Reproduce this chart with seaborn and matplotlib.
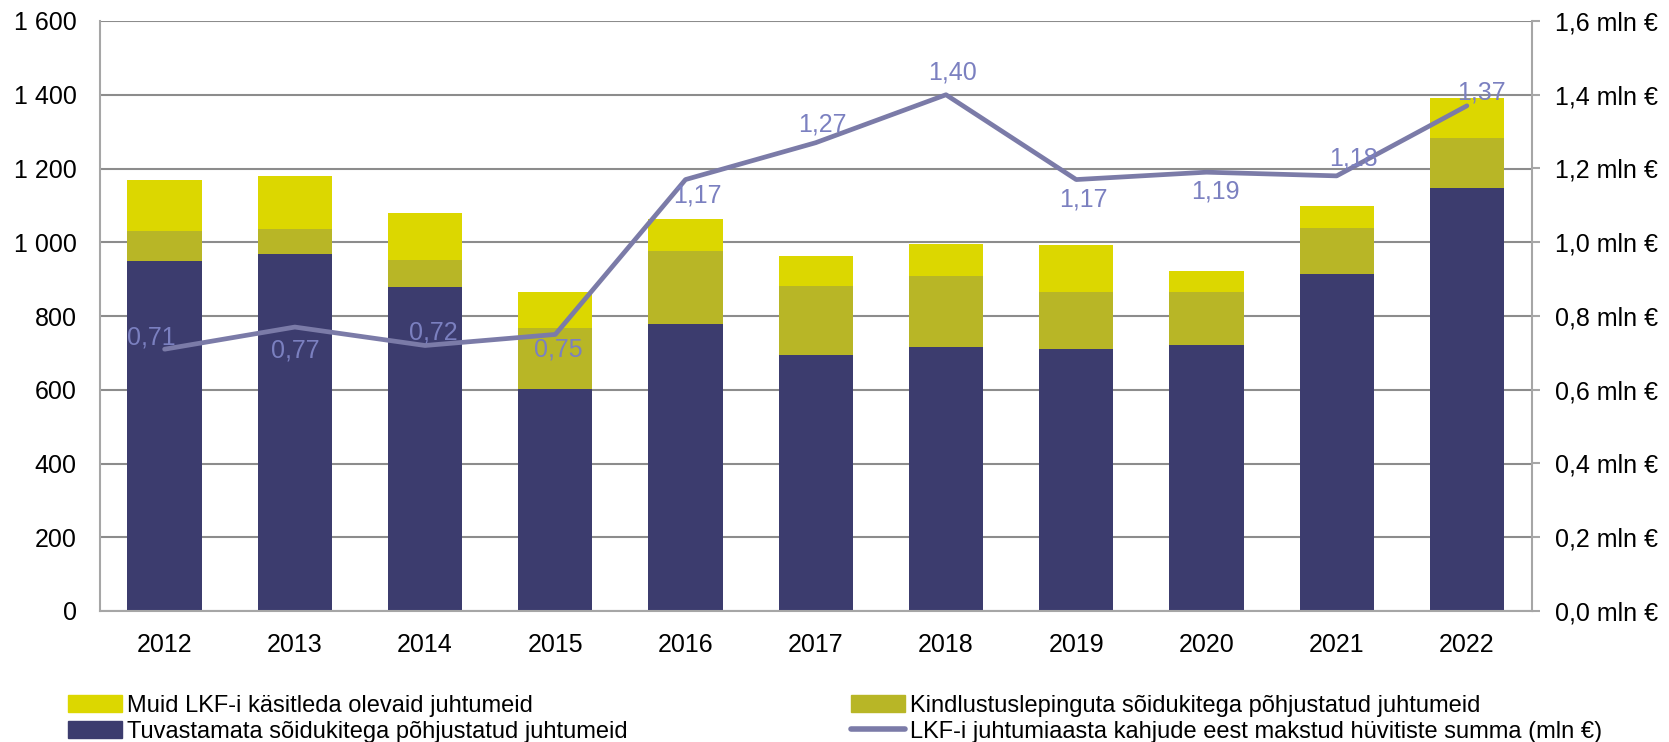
import matplotlib
matplotlib.use('Agg')
import matplotlib.pyplot as plt
import matplotlib.ticker as mticker
from matplotlib.patches import Patch
from matplotlib.lines import Line2D
import numpy as np
import pandas as pd
import seaborn as sns

# Data
years = ['2012', '2013', '2014', '2015', '2016', '2017', '2018', '2019', '2020', '2021', '2022']
unidentified = [950, 968, 878, 602, 777, 693, 716, 710, 722, 915, 1147]
uninsured = [80, 67, 74, 166, 198, 188, 193, 156, 142, 125, 137]
other = [138, 145, 128, 98, 88, 83, 87, 127, 59, 58, 108]
paid_mln = [0.71, 0.77, 0.72, 0.75, 1.17, 1.27, 1.40, 1.17, 1.19, 1.18, 1.37]

lbl_other = 'Muid LKF-i käsitleda olevaid juhtumeid'
lbl_uninsured = 'Kindlustuslepinguta sõidukitega põhjustatud juhtumeid'
lbl_unident = 'Tuvastamata sõidukitega põhjustatud juhtumeid'
lbl_line = 'LKF-i juhtumiaasta kahjude eest makstud hüvitiste summa (mln €)'

c_other = '#dcd700'
c_unins = '#b8b626'
c_unident = '#3c3c6e'
c_line = '#7b7ba8'
c_label = '#7b80c0'
c_grid = '#8c8c8c'
c_spine = '#a6a6a6'

sns.set_style('white')
plt.rcParams['font.family'] = ['Liberation Sans', 'DejaVu Sans']
plt.rcParams['text.color'] = 'black'
plt.rcParams['xtick.labelcolor'] = 'black'
plt.rcParams['ytick.labelcolor'] = 'black'

df = pd.DataFrame({'year': years, 'unident': unidentified, 'unins': uninsured, 'other': other})
df['mid'] = df['unident'] + df['unins']
df['total'] = df['mid'] + df['other']

fig = plt.figure(figsize=(16.69, 7.42), dpi=100)
ax = fig.add_axes([99.5 / 1669, (742 - 611) / 742, (1532 - 99.5) / 1669, (611 - 21) / 742])

# layered bars = stacked look
bar_kws = dict(width=0.57, linewidth=0, saturation=1, ax=ax, zorder=2)
sns.barplot(data=df, x='year', y='total', color=c_other, **bar_kws)
sns.barplot(data=df, x='year', y='mid', color=c_unins, **bar_kws)
sns.barplot(data=df, x='year', y='unident', color=c_unident, **bar_kws)

ax.set_ylim(0, 1600)
ax.set_xlim(-0.5, len(years) - 0.5)
ax.yaxis.set_major_locator(mticker.MultipleLocator(200))
ax.yaxis.set_major_formatter(mticker.FuncFormatter(lambda v, p: f'{int(v):,}'.replace(',', ' ')))
ax.grid(axis='y', color=c_grid, linewidth=1.5, zorder=0)
ax.set_axisbelow(True)
ax.set_xlabel('')
ax.set_ylabel('')
ax.tick_params(axis='y', length=0, pad=16.5, labelsize=18, labelcolor='black')
ax.tick_params(axis='x', length=0, pad=15.5, labelsize=18, labelcolor='black')
for s in ['left', 'bottom']:
    ax.spines[s].set_color(c_spine)
    ax.spines[s].set_linewidth(1.5)
ax.spines['top'].set_visible(False)
ax.spines['right'].set_visible(False)

# secondary axis with paid sums
ax2 = ax.twinx()
sns.lineplot(x=np.arange(len(years)), y=paid_mln, color=c_line, linewidth=3.4, ax=ax2, zorder=5)
ax2.set_ylim(0, 1.6)
ax2.set_xlim(-0.5, len(years) - 0.5)
ax2.yaxis.set_major_locator(mticker.MultipleLocator(0.2))
ax2.yaxis.set_major_formatter(mticker.FuncFormatter(lambda v, p: f'{v:.1f}'.replace('.', ',') + ' mln €'))
ax2.tick_params(axis='y', length=5.8, width=1.5, color=c_spine, pad=11, labelsize=18, labelcolor='black')
for s in ['left', 'top', 'bottom']:
    ax2.spines[s].set_visible(False)
ax2.spines['right'].set_color(c_spine)
ax2.spines['right'].set_linewidth(1.5)

# data labels (offsets in pixels)
offsets = [(-13, 12), (0, -23), (8, 13), (3, -15), (12, -16), (7, 18),
           (7, 22), (7, -20), (9, -19), (17, 17), (15, 13)]
for i, (v, off) in enumerate(zip(paid_mln, offsets)):
    ax2.annotate(f'{v:.2f}'.replace('.', ','), (i, v), xytext=off, textcoords='offset pixels',
                 ha='center', va='center', fontsize=18, color=c_label, zorder=6)

# legend in two columns
h_other = Patch(color=c_other)
h_unins = Patch(color=c_unins)
h_unident = Patch(color=c_unident)
h_line = Line2D([], [], color=c_line, linewidth=4)
leg_kws = dict(loc='upper left', frameon=False, fontsize=17, handlelength=2.3, handleheight=0.75,
               handletextpad=0.2, labelspacing=0.15, borderaxespad=0, borderpad=0, labelcolor='black')
leg1 = fig.legend([h_other, h_unident], [lbl_other, lbl_unident],
                  bbox_to_anchor=(68 / 1669, 1 - 695 / 742), **leg_kws)
leg2 = fig.legend([h_unins, h_line], [lbl_uninsured, lbl_line],
                  bbox_to_anchor=(851 / 1669, 1 - 695 / 742), **leg_kws)

fig.savefig('out.png', dpi=100)
